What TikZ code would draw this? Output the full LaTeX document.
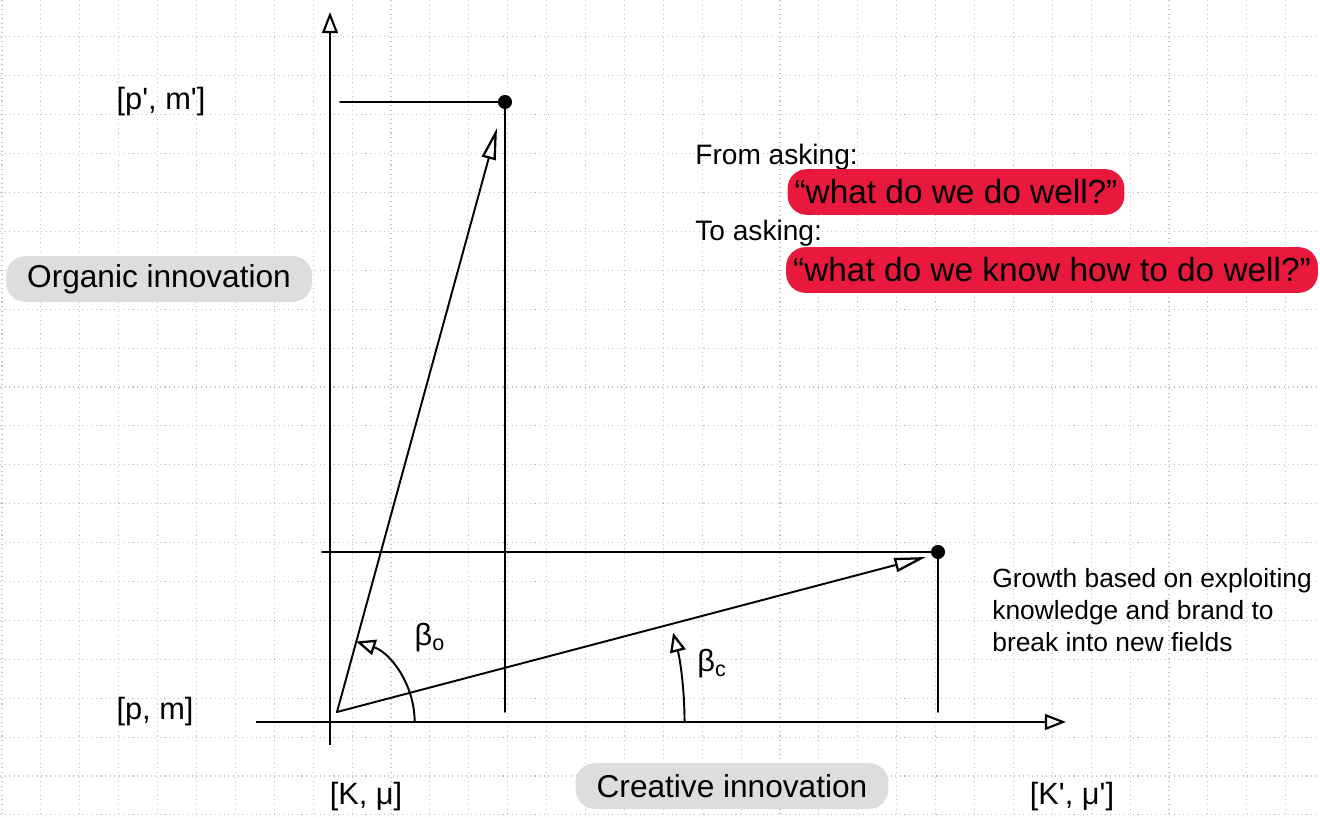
\documentclass[tikz,border=0pt]{standalone}
\usepackage{fontspec}
\setmainfont{Liberation Sans}
\usetikzlibrary{arrows.meta,positioning}
\definecolor{gridgray}{HTML}{C4C4C4}
\definecolor{pillgray}{HTML}{DCDDDF}
\definecolor{askred}{HTML}{E8193C}
\newcommand{\pr}{\textquotesingle}
\tikzset{
  gridline/.style={gridgray, dotted, line width=0.6pt},
  sketch/.style={line width=1.1pt, line cap=round},
  axis/.style={line width=0.9pt, -{Triangle[open, length=12pt, width=9pt, line width=1.2pt]}},
  vec/.style={sketch, -{Triangle[open, length=18pt, width=8pt, line width=1.3pt]}},
  turn/.style={sketch, -{Triangle[open, length=11pt, width=9pt, line width=1.3pt]}},
  dot/.style={circle, fill=black, inner sep=0pt, minimum size=8pt},
  tag/.style={inner sep=0pt, font=\fontsize{17.5}{20}\selectfont},
  pill/.style={tag, font=\fontsize{18}{20}\selectfont, fill=pillgray, rounded corners=11pt, inner xsep=12pt, minimum height=26pt},
  question/.style={tag, font=\fontsize{19}{22}\selectfont, fill=askred, rounded corners=11pt, inner xsep=4pt, minimum height=26pt},
}
\begin{document}
\begin{tikzpicture}[x=0.02cm, y=-0.02cm]
    \useasboundingbox (0,0) rectangle (1320,818);

    % Dotted paper grid
    \foreach \k in {0,...,33} {
        \draw[gridline] ({2+38.9*\k},0) -- ({2+38.9*\k},818);
    }
    \foreach \k in {1,...,21} {
        \draw[gridline] (0,{-2+38.9*\k}) -- (1320,{-2+38.9*\k});
    }

    % Axes
    \coordinate (O) at (330,722);
    \draw[axis] (330,745) -- (330,12);
    \draw[axis] (256,722) -- (1066,722);

    % The two end points and their guide lines
    \node[dot] (ptOrg) at (505,102) {};
    \node[dot] (ptCre) at (938,552) {};
    \coordinate (S) at (337,712);
    \draw[sketch] (340,102) -- (ptOrg.center) -- (505,712);
    \draw[sketch] (322,552) -- (ptCre.center) -- (938,712);

    % Growth vectors
    \draw[vec] (S) -- (497,128);
    \draw[vec] (S) -- (926,557);

    % Angles beta_o and beta_c
    \draw[turn] (O) ++(0:48.2pt) arc[start angle=0, end angle=72, radius=48.2pt];
    \draw[turn] (O) ++(0:201.8pt) arc[start angle=0, end angle=14.6, radius=201.8pt];
    \node[tag] (betaO) at (430,638) {β\textsubscript{o}};
    \node[tag] (betaC) at (712,664) {β\textsubscript{c}};

    % Axis labels
    \node[tag] (pmNew) at (161,102) {[p\pr, m\pr]};
    \node[tag] (pmOld) at (155,712) {[p, m]};
    \node[tag] (kmuOld) at (366,797) {[K, μ]};
    \node[tag] (kmuNew) at (1072,797) {[K\pr, μ\pr]};
    \node[pill] (organic) at (159,279) {Organic innovation};
    \node[pill] (creative) at (732,786) {Creative innovation};

    % The two questions
    \node[tag, font=\fontsize{16}{20}\selectfont, anchor=west] (from) at (695,157) {From asking:};
    \node[question] (askOld) at (956,192) {“what do we do well?”};
    \node[tag, font=\fontsize{16}{20}\selectfont, anchor=west] (to) at (695,233) {To asking:};
    \node[question] (askNew) at (1052,270) {“what do we know how to do well?”};

    % Note beside the creative point
    \node[inner sep=0pt, anchor=north west, align=left, font=\fontsize{15}{18.2}\selectfont]
        (growth) at (992,568) {Growth based on exploiting\\knowledge and brand to\\break into new fields};
\end{tikzpicture}
\end{document}
